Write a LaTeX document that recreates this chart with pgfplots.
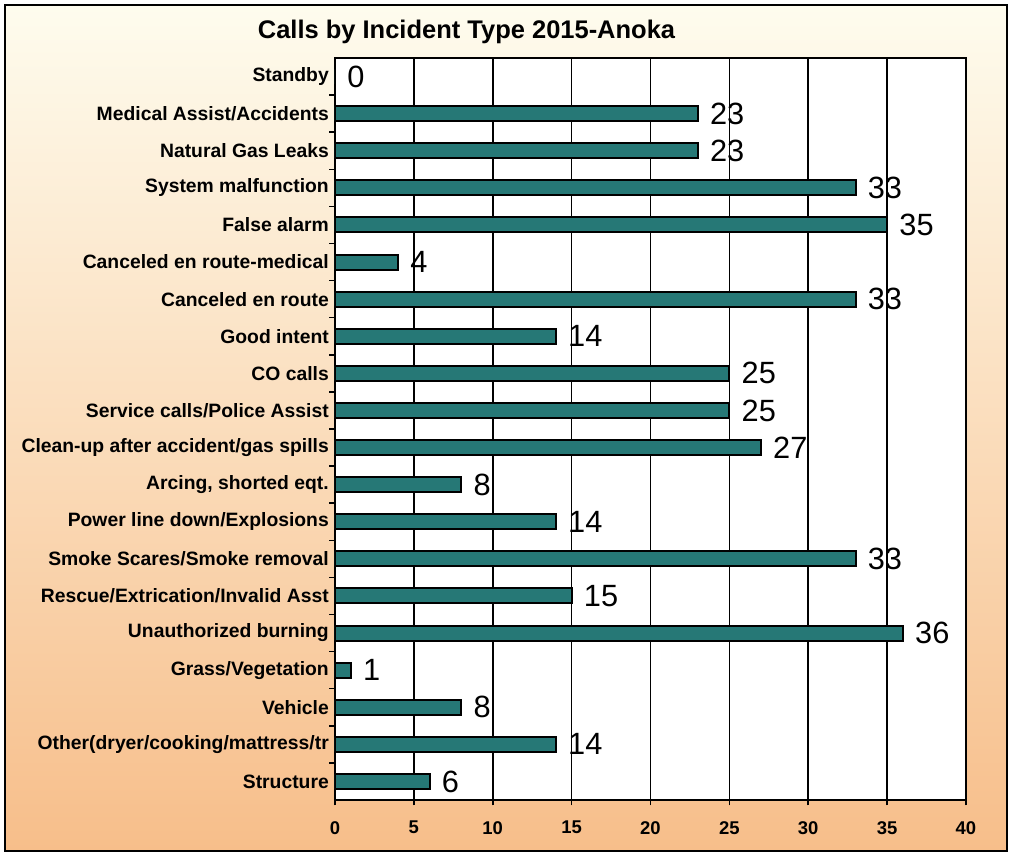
\documentclass[border=0pt]{standalone}
\usepackage{pgfplots}
\pgfplotsset{compat=1.18}
\usepackage{pgfplotstable}
\usepackage{fontspec}
\setmainfont{Liberation Sans}

\definecolor{barteal}{RGB}{38,120,118}
\definecolor{bgtop}{RGB}{254,252,238}
\definecolor{bgmid}{RGB}{252,232,200}
\definecolor{bgbot}{RGB}{247,190,138}

% pos 19 = top row (Standby), pos 0 = bottom row (Structure)
\pgfplotstableread{
pos calls
19 0
18 23
17 23
16 33
15 35
14 4
13 33
12 14
11 25
10 25
9 27
8 8
7 14
6 33
5 15
4 36
3 1
2 8
1 14
0 6
}\calls

\begin{document}
\begin{tikzpicture}
% page: 1px = 0.2mm
\useasboundingbox (0,0) rectangle (20.22,17.2);
\shade[top color=bgtop, middle color=bgmid, bottom color=bgbot]
  (0.1,0.18) rectangle (20.14,17.1);
\draw[black, line width=0.8pt] (0.1,0.18) rectangle (20.14,17.1);
\node[font=\bfseries\fontsize{14.5}{16}\selectfont] at (9.33,16.56)
  {Calls by Incident Type 2015-Anoka};

\begin{axis}[
  at={(6.70cm,1.20cm)}, anchor=south west,
  scale only axis, width=12.62cm, height=14.84cm,
  xbar, bar width=3mm,
  xmin=0, xmax=40, ymin=-0.5, ymax=19.5,
  axis background/.style={fill=white},
  axis line style={line width=1.1pt},
  xtick pos=bottom, ytick pos=left,
  xtick={0,5,...,40},
  xmajorgrids, major grid style={black, line width=0.9pt},
  tick align=outside,
  major tick length=1.1mm,
  xtick style={black, line width=0.9pt},
  ytick style={draw=black, line width=0.9pt},
  % tick marks between the categories, names at the centres
  ytick={0.5,1.5,...,18.5},
  yticklabels={},
  extra y ticks={0,...,19},
  extra y tick labels={Structure, Other(dryer/cooking/mattress/tr, Vehicle,
    Grass/Vegetation, Unauthorized burning, Rescue/Extrication/Invalid Asst,
    Smoke Scares/Smoke removal, Power line down/Explosions,
    {Arcing, shorted eqt.}, Clean-up after accident/gas spills,
    Service calls/Police Assist, CO calls, Good intent, Canceled en route,
    Canceled en route-medical, False alarm, System malfunction,
    Natural Gas Leaks, Medical Assist/Accidents, Standby},
  extra y tick style={ytick style={draw=none}},
  yticklabel style={font=\bfseries\fontsize{11}{12}\selectfont, xshift=1.1mm},
  xticklabel style={font=\bfseries\fontsize{10.5}{12}\selectfont, yshift=-1.9mm},
  /pgf/number format/assume math mode=true,
  nodes near coords,
  every node near coord/.append style={font=\fontsize{17.5}{18}\selectfont,
    anchor=west, xshift=1.1mm, black},
]
\addplot[draw=black, line width=1.1pt, fill=barteal] table[x=calls, y=pos] {\calls};
\end{axis}
\end{tikzpicture}
\end{document}
